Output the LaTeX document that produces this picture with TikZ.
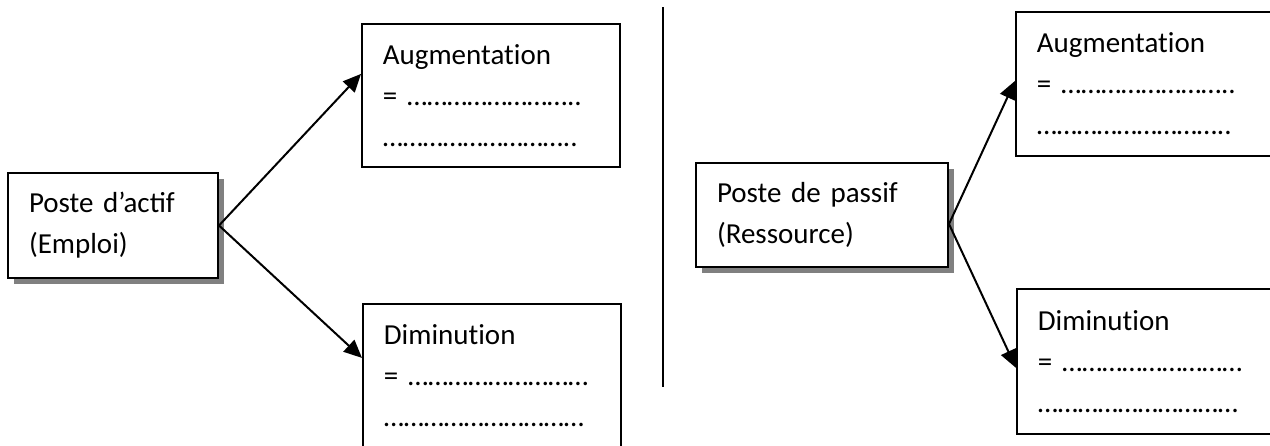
\documentclass[tikz,border=0pt]{standalone}
\usepackage{fontspec}
\setmainfont{Carlito}
\usetikzlibrary{shadows,arrows.meta}

% keep t and i apart (no ti ligature)
\newcommand{\tsep}{t\kern0pt i}

\tikzset{
  poste/.style={draw=black, line width=1pt, fill=white, align=left, anchor=north west,
    inner xsep=10.5pt, inner ysep=0pt,
    drop shadow={shadow xshift=3pt, shadow yshift=-3pt, fill=gray, opacity=1}},
  champ/.style={draw=black, line width=0.9pt, fill=white, align=left, anchor=north west,
    inner xsep=10.5pt, inner ysep=0pt, text width=108pt},
  fleche/.style={-{Triangle[length=9pt,width=8pt]}, line width=1pt}
}

\begin{document}
\begin{tikzpicture}[x=0.5pt, y=-0.5pt, font=\fontsize{14.5}{20.5}\selectfont]
\useasboundingbox (0,0) rectangle (1270,445);
\clip (0,0) rectangle (1270,445);

\node[poste, text width=84pt, minimum height=52.5pt] (posteA) at (7,172) {Poste d’actif\\(Emploi)};
\node[champ, minimum height=71.5pt] (augA) at (361,23) {Augmenta\tsep on\\= ……………………..\\………………………..};
\node[champ, minimum height=71.5pt] (dimA) at (362,303) {Diminu\tsep on\\= ………………………\\…………………………};

\path [fleche] (posteA.east) edge ([yshift=10.75pt]augA.west);
\path [fleche] (posteA.east) edge ([yshift=8.75pt]dimA.west);

\coordinate (sepTop) at (663,7);
\coordinate (sepBot) at (663,387);
\draw[line width=1pt] (sepTop) -- (sepBot);

\node[poste, text width=105pt, minimum height=52pt] (posteP) at (695,162) {Poste de passif\\(Ressource)};
\node[champ, minimum height=72pt] (augP) at (1015,11) {Augmenta\tsep on\\= ……………………..\\………………………..};
\node[champ, minimum height=72.5pt] (dimP) at (1016,288) {Diminu\tsep on\\= ………………………\\…………………………};

\path [fleche] ([yshift=-4.5pt]posteP.east) edge ([yshift=1.5pt]augP.west);
\path [fleche] ([yshift=-4.5pt]posteP.east) edge ([yshift=-3.25pt]dimP.west);
\end{tikzpicture}
\end{document}
